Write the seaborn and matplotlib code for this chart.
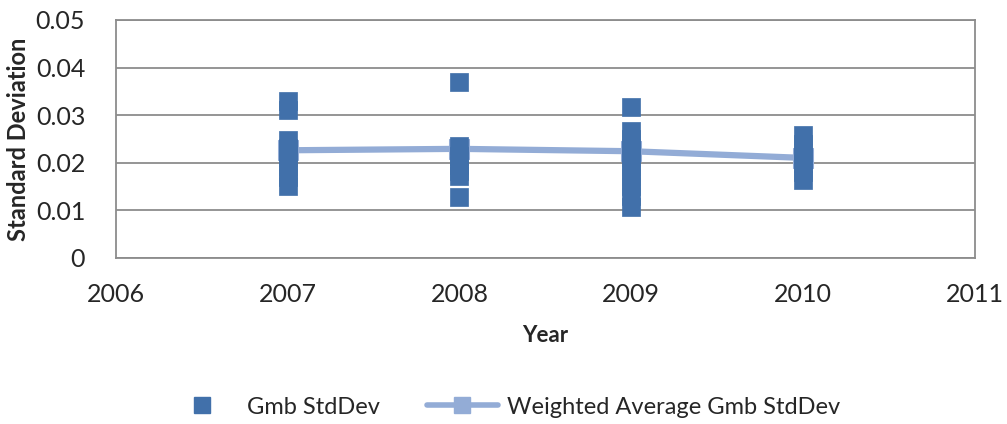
import pandas as pd
import numpy as np
import seaborn as sns
import matplotlib.pyplot as plt
from matplotlib.lines import Line2D

sns.set_style("white")
plt.rcParams["font.family"] = ["Lato", "DejaVu Sans"]

# individual Gmb std devs per year
years_2007 = [0.0330, 0.0310, 0.0248, 0.0230, 0.0210, 0.0190, 0.0170, 0.0150]
years_2008 = [0.0370, 0.0235, 0.0215, 0.0195, 0.0182, 0.0172, 0.0128]
years_2009 = [0.0317, 0.0267, 0.0250, 0.0230, 0.0210, 0.0190, 0.0170, 0.0150, 0.0130, 0.0107]
years_2010 = [0.0258, 0.0240, 0.0220, 0.0200, 0.0180, 0.0164]

avg_years = [2007, 2008, 2009, 2010]
avg_values = [0.0226, 0.0229, 0.0224, 0.0210]

dark = "#4170aa"
light = "#93acd6"

rows = []
for yr, vals in zip(avg_years, [years_2007, years_2008, years_2009, years_2010]):
    for v in vals:
        rows.append({"Year": yr, "StdDev": v})
pts = pd.DataFrame(rows)
avg = pd.DataFrame({"Year": avg_years, "StdDev": avg_values})

fig = plt.figure(figsize=(10.07, 4.24), dpi=100)
ax = fig.add_axes([0.115, 0.392, 0.853, 0.561])

sns.lineplot(data=avg, x="Year", y="StdDev", ax=ax, color=light, linewidth=4.5,
             marker="s", markersize=14, markeredgecolor=light, zorder=2)
sns.scatterplot(data=pts, x="Year", y="StdDev", ax=ax, color=dark, marker="s",
                s=165, edgecolor=dark, linewidth=0.5, zorder=3)

ax.set_xlim(2006, 2011)
ax.set_ylim(0, 0.05)
ax.set_xticks([2006, 2007, 2008, 2009, 2010, 2011])
ax.set_yticks([0, 0.01, 0.02, 0.03, 0.04, 0.05])
ax.set_yticklabels(["0", "0.01", "0.02", "0.03", "0.04", "0.05"])
ax.yaxis.grid(True, color="#8c8c8c", linewidth=1.3)
ax.set_axisbelow(True)
for s in ax.spines.values():
    s.set_color("#8c8c8c")
    s.set_linewidth(1.3)
ax.tick_params(axis="both", labelsize=18, length=0)
ax.tick_params(axis="x", pad=18)
ax.tick_params(axis="y", pad=22)
ax.set_xlabel("Year", fontsize=16, fontweight="bold", labelpad=14)
ax.set_ylabel("Standard Deviation", fontsize=17, fontweight="bold", labelpad=4)

handles = [
    Line2D([], [], color=dark, marker="s", linestyle="none", markersize=12),
    Line2D([], [], color=light, marker="s", linewidth=4, markersize=12),
]
fig.legend(handles, ["Gmb StdDev", "Weighted Average Gmb StdDev"],
           loc="center", bbox_to_anchor=(0.5, 0.04), ncol=2, frameon=False,
           fontsize=17, handlelength=3, handletextpad=0.4, columnspacing=2)

fig.savefig("out.png", dpi=100)
